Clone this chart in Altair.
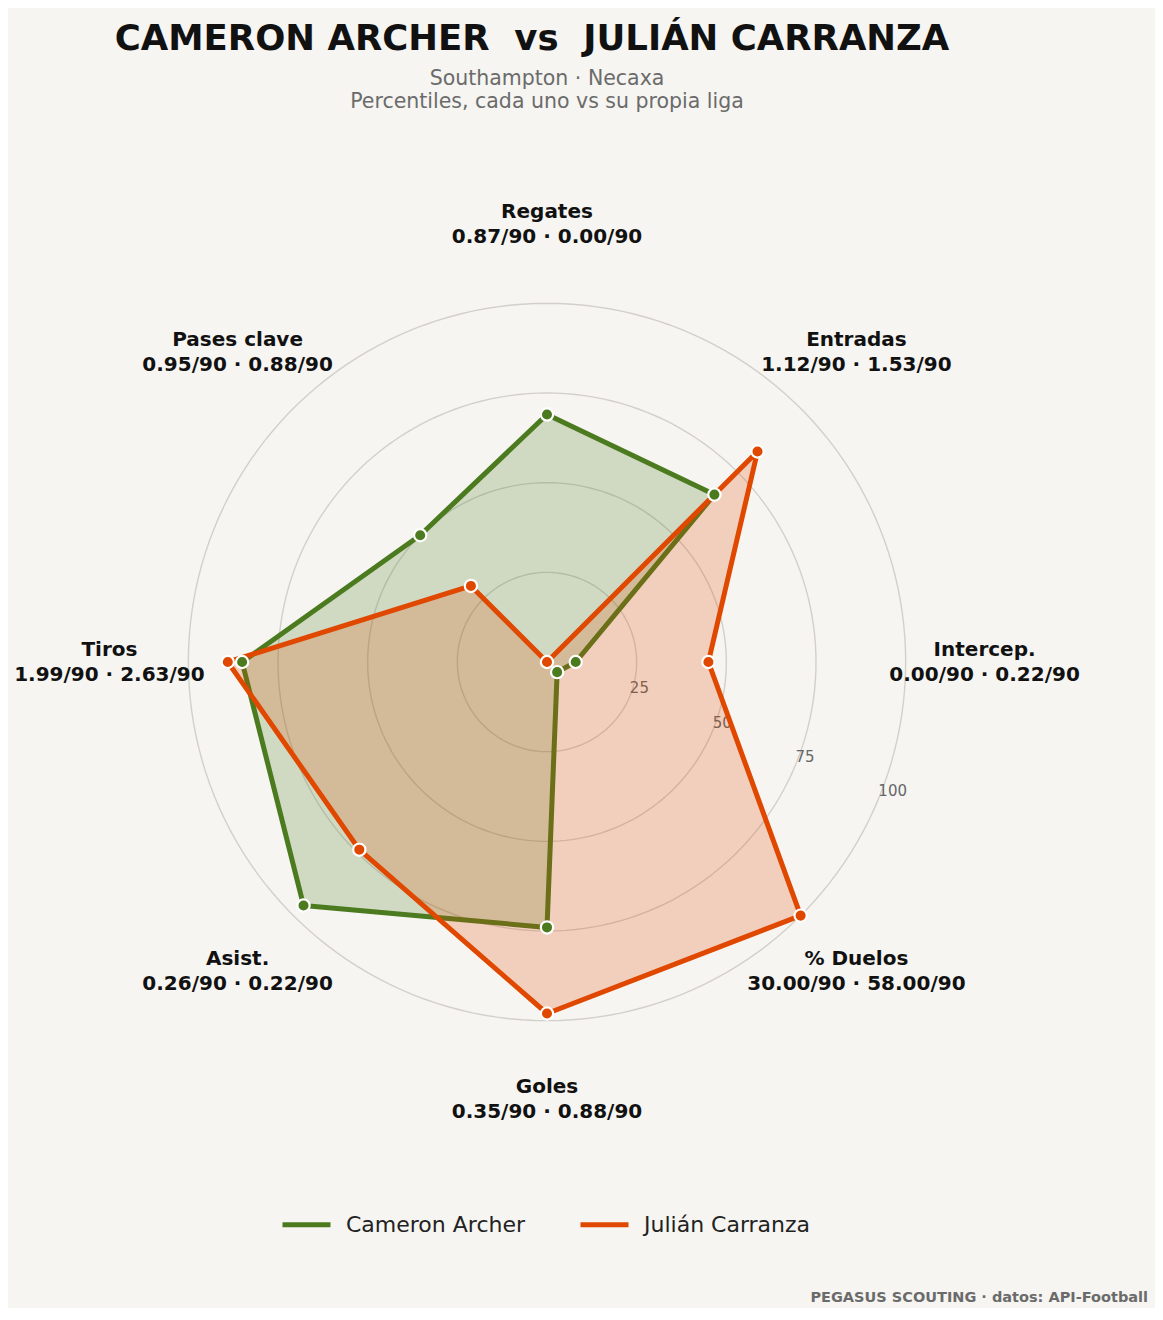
import altair as alt
import pandas as pd

# radar axes, clockwise from the top
metrics = ["Regates", "Entradas", "Intercep.", "% Duelos", "Goles", "Asist.", "Tiros", "Pases clave"]
archer_pct = [69, 66, 8, 4, 74, 96, 85, 50]
carranza_pct = [0, 83, 45, 100, 98, 74, 89, 30]
archer_per90 = ["0.87", "1.12", "0.00", "30.00", "0.35", "0.26", "1.99", "0.95"]
carranza_per90 = ["0.00", "1.53", "0.22", "58.00", "0.88", "0.22", "2.63", "0.88"]

players = ["Cameron Archer", "Julián Carranza"]
player_colors = ["#4b7a1f", "#e04800"]
rings = [25, 50, 75, 100]

subtitle_lines = ["Southampton · Necaxa", "Percentiles, cada uno vs su propia liga"]

FONT = "DejaVu Sans"

rows = []
for player, pcts in zip(players, [archer_pct, carranza_pct]):
    for i, m in enumerate(metrics):
        rows.append({"player": player, "idx": i, "metric": m, "r": pcts[i]})
df_radar = pd.DataFrame(rows)

df_labels = pd.DataFrame({
    "idx": list(range(len(metrics))),
    "label": [f"{m}\n{a}/90 · {c}/90" for m, a, c in zip(metrics, archer_per90, carranza_per90)],
})
df_labels["r"] = 122

# grid circles, drawn as closed polylines
df_rings = pd.DataFrame([{"ring": r, "deg": d} for r in rings for d in range(0, 360, 2)])
df_ticks = pd.DataFrame({"ring": rings})

xs = alt.Scale(domain=[-150, 150], nice=False, zero=False)
ys = alt.Scale(domain=[-150, 150], nice=False, zero=False)
X = alt.X("x:Q", scale=xs, axis=None)
Y = alt.Y("y:Q", scale=ys, axis=None)
color_scale = alt.Scale(domain=players, range=player_colors)

polar = dict(x="datum.r * sin(datum.idx * PI / 4)", y="datum.r * cos(datum.idx * PI / 4)")

grid = alt.Chart(df_rings).transform_calculate(
    x="datum.ring * sin(datum.deg * PI / 180)",
    y="datum.ring * cos(datum.deg * PI / 180)",
).mark_line(color="#d3d0ca", strokeWidth=1.4, interpolate="linear-closed").encode(
    x=X, y=Y, detail="ring:N", order="deg:Q"
)

ticks = alt.Chart(df_ticks).transform_calculate(
    x="datum.ring * sin(112.5 * PI / 180)",
    y="datum.ring * cos(112.5 * PI / 180)",
).mark_text(align="left", baseline="bottom", fontSize=15, font=FONT, color="#666666").encode(
    x=X, y=Y, text="ring:Q"
)

shapes = alt.Chart(df_radar).transform_calculate(**polar).mark_line(
    interpolate="linear-closed", strokeWidth=5, strokeJoin="round", fillOpacity=0.22
).encode(
    x=X, y=Y,
    color=alt.Color("player:N", scale=color_scale, legend=alt.Legend(
        title=None, orient="none", legendX=271, legendY=1074, direction="horizontal",
        symbolType="stroke", symbolStrokeWidth=5, symbolSize=2304,
        labelFontSize=22, labelFont=FONT, labelColor="#222222", labelLimit=0,
        columnPadding=45, labelOffset=13,
    )),
    fill=alt.Fill("player:N", scale=color_scale, legend=None),
    order="idx:Q",
)

points = alt.Chart(df_radar).transform_calculate(**polar).mark_point(
    filled=True, size=150, stroke="white", strokeWidth=2.2, opacity=1
).encode(
    x=X, y=Y, color=alt.Color("player:N", scale=color_scale, legend=None)
)

labels = alt.Chart(df_labels).transform_calculate(**polar).mark_text(
    align="center", baseline="middle", lineBreak="\n", lineHeight=25, dy=-12.5,
    fontSize=20, fontWeight="bold", font=FONT, color="#111111"
).encode(x=X, y=Y, text="label:N")

subtitle = alt.Chart(pd.DataFrame({"t": subtitle_lines, "line": [0, 1]})).transform_calculate(
    py="-45 + 23 * datum.line"
).mark_text(
    align="center", baseline="middle", fontSize=20.5, font=FONT, color="#6b6b6b"
).encode(x=alt.value(538), y=alt.Y("py:Q", scale=None), text="t:N")

footer = alt.Chart(pd.DataFrame({"t": ["PEGASUS SCOUTING · datos: API-Football"]})).mark_text(
    align="right", baseline="alphabetic", fontSize=14.5, fontWeight="bold", font=FONT, color="#6b6b6b"
).encode(x=alt.value(1139), y=alt.value(1178), text="t:N")

chart = alt.layer(grid, ticks, shapes, points, labels, subtitle, footer).properties(
    width=1076, height=1076,
    autosize=alt.AutoSizeParams(type="none"),
    padding={"left": 1, "top": 116, "right": 70, "bottom": 108},
    background="#f6f5f1",
    title=alt.TitleParams(
        text="CAMERON ARCHER \u00a0vs\u00a0 JULIÁN CARRANZA",
        font=FONT, fontSize=35.5, fontWeight="bold", color="#111111",
        anchor="middle", frame="group", baseline="alphabetic", dx=-15, offset=-16,
    ),
).configure_view(stroke=None)

chart.save("out.html", embed_options={"renderer": "svg", "actions": False})
